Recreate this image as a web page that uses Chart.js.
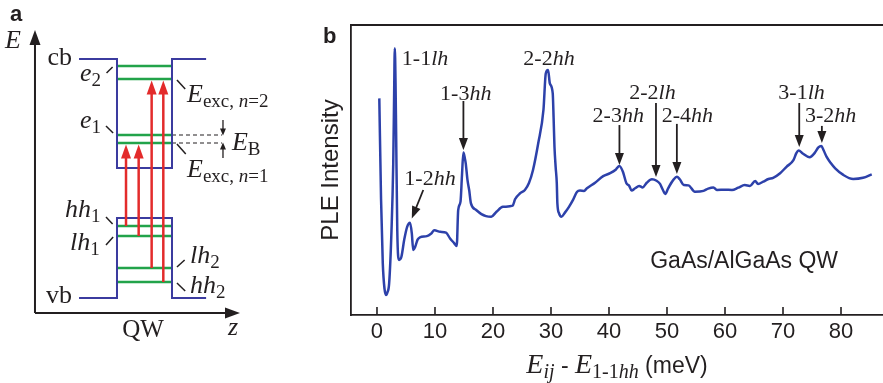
<!DOCTYPE html>
<html>
<head>
<meta charset="utf-8">
<script src="https://cdn.jsdelivr.net/npm/chart.js@4.4.0/dist/chart.umd.min.js"></script>
<style>
  html, body { margin: 0; padding: 0; background: #fff; }
  #wrap { position: relative; width: 883px; height: 383px; overflow: hidden; }
  #schem { position: absolute; left: 0; top: 0; }
  #ple { position: absolute; left: 310px; top: 0; }
</style>
</head>
<body>
<div id="wrap">
  <canvas id="schem" width="310" height="383"></canvas>
  <canvas id="ple" width="573" height="383"></canvas>
</div>
<script>
// ===== panel b : PLE spectrum =====
const energy = [0.4,0.7,1.0,1.3,1.55,1.8,2.1,2.5,2.8,2.95,
  3.07,3.2,3.3,3.5,3.8,4.2,4.7,5.2,5.7,6.0,
  6.25,6.6,7.0,7.4,8.6,9.3,9.9,10.9,11.9,12.6,
  13.3,13.75,14.0,14.4,14.65,14.9,15.15,15.3,15.6,15.9,
  16.2,17.1,18.0,18.8,19.7,20.6,21.7,23.4,23.8,24.7,
  25.5,26.2,26.9,27.8,28.7,29.1,29.5,29.8,30.3,30.45,
  30.6,30.8,31.0,31.1,31.4,31.8,32.4,33.1,33.8,34.5,
  35.0,35.7,36.2,37.6,39.0,40.2,41.2,41.8,42.4,43.0,
  43.5,43.9,44.5,45.2,45.8,46.5,47.4,48.2,48.8,49.3,
  49.7,50.2,51.1,51.7,52.2,52.9,53.7,54.8,56.3,57.1,
  58.0,58.6,60.0,61.2,62.3,63.4,64.3,65.2,65.7,66.6,
  67.5,68.3,69.5,70.6,71.8,72.3,72.7,73.4,74.6,75.5,
  76.1,76.6,77.0,77.5,78.2,79.0,80.4,82.1,83.8,85.3];
const intensity = [74.7,40,17.8,9,6.9,7.8,11,29,52,75,
  92,80,63,29,19,20,26,30.4,31.8,28.2,
  22.4,23.6,26,26.8,27.2,28,29.2,28.7,28.4,26.4,
  24.8,23.8,36.2,39.1,48,56,54,52.3,46.6,43,
  38.5,36.2,34.8,34.1,33.9,35.6,37.3,37.7,39.9,42,
  43.1,45.5,50,59.2,70.7,83.3,84.5,79.9,76.4,68,
  58,51.1,45.4,38.5,35,33.9,35.3,37.3,39.7,42.5,
  42.9,42.8,43.7,45.6,47.9,48.9,50.2,51.4,49.4,45.4,
  44.5,42.9,43.7,44.5,44.0,45.6,46.8,46.3,45.2,43.1,
  41.7,43.7,46.6,47.7,46.8,44.8,44.7,42.5,42.8,43.6,
  44.0,43.1,43.2,43.1,43.9,44.8,44.5,46.2,45.2,46.0,
  46.9,47.3,48.9,51.1,53.4,55.8,56.7,55.7,54.4,56,
  57.8,58.3,56.8,54.6,52.5,50.6,48.3,46.9,47.3,48.5];
const xTicks = [0, 10, 20, 30, 40, 50, 60, 70, 80];
const peakNames = ['1-1lh', '1-2hh', '1-3hh', '2-2hh', '2-3hh', '2-2lh', '2-4hh', '3-1lh', '3-2hh'];
const peakEnergy = [3.07, 6.0, 14.9, 29.5, 41.8, 48.1, 51.7, 72.8, 76.7];

// ===== panel a : quantum well sketch (z in well widths, E arbitrary) =====
const wellZ = [0, 1];
const barrierZ = [-0.69, 1.62];
const cbEdge = [25.4, 14.5];   // barrier, well bottom
const vbEdge = [1.5, 9.5];     // barrier, well top
const levelNames = ['e2', 'Eexc2', 'e1', 'Eexc1', 'hh1', 'lh1', 'lh2', 'hh2'];
const levelE = [24.7, 23.4, 17.8, 17.0, 8.7, 7.7, 4.5, 3.1];
const transitions = [['hh1', 'Eexc1'], ['lh1', 'Eexc1'], ['lh2', 'Eexc2'], ['hh2', 'Eexc2']];
const transitionZ = [0.164, 0.394, 0.63, 0.842];

const INK = '#231f20';
const SERIF = '"Liberation Serif", "Times New Roman", serif';
const SANS = '"Liberation Sans", Arial, sans-serif';
const it = s => `italic ${s}px ${SERIF}`;
const up = s => `${s}px ${SERIF}`;
const lev = n => levelE[levelNames.indexOf(n)];

// text made of pieces with own font and baseline shift
function rich(ctx, x, y, parts, align) {
  let w = 0;
  parts.forEach(p => { ctx.font = p[1]; w += ctx.measureText(p[0]).width; });
  let cx = align === 'center' ? x - w / 2 : align === 'right' ? x - w : x;
  ctx.textAlign = 'left';
  ctx.textBaseline = 'alphabetic';
  ctx.fillStyle = INK;
  parts.forEach(p => {
    ctx.font = p[1];
    ctx.fillText(p[0], cx, y + (p[2] || 0));
    cx += ctx.measureText(p[0]).width;
  });
}

function arrow(ctx, x1, y1, x2, y2, color, lw, hl, hw) {
  const a = Math.atan2(y2 - y1, x2 - x1);
  const bx = x2 - hl * Math.cos(a), by = y2 - hl * Math.sin(a);
  ctx.strokeStyle = color;
  ctx.lineWidth = lw;
  ctx.beginPath();
  ctx.moveTo(x1, y1);
  ctx.lineTo(bx + Math.cos(a), by + Math.sin(a));
  ctx.stroke();
  ctx.fillStyle = color;
  ctx.beginPath();
  ctx.moveTo(x2, y2);
  ctx.lineTo(bx + hw / 2 * Math.sin(a), by - hw / 2 * Math.cos(a));
  ctx.lineTo(bx - hw / 2 * Math.sin(a), by + hw / 2 * Math.cos(a));
  ctx.closePath();
  ctx.fill();
}

// peak label text: numbers upright, band letters italic
function peakParts(name, size) {
  const m = name.match(/^([\d-]+)(.*)$/);
  return [[m[1], up(size)], [m[2], it(size)]];
}

// label placement for panel b: [label x, label y, align, arrow tail y, arrow tip y, tail x]
const peakLayout = [
  [4.28, 86.2, 'left', null, null],
  [9.14, 44.8, 'center', 43.1, 33.3, 7.98],
  [15.3, 74.1, 'center', 73.8, 56.9],
  [29.66, 86.2, 'center', null, null],
  [41.6, 66.7, 'center', 65.5, 51.7],
  [47.5, 74.4, 'center', 73.1, 47.6],
  [53.5, 66.7, 'center', 65.9, 48.6],
  [73.2, 74.4, 'center', 73.1, 57.9],
  [78.2, 66.7, 'center', 65.2, 59.3]
];

const pleDecor = {
  id: 'pleDecor',
  afterDraw(chart) {
    const { ctx, chartArea: ca, scales: { x, y } } = chart;
    ctx.save();
    ctx.strokeStyle = INK;
    ctx.lineWidth = 1.8;
    ctx.beginPath();
    ctx.moveTo(ca.left, ca.top);
    ctx.lineTo(ca.right, ca.top);
    ctx.stroke();
    // ticks pointing into the plot
    ctx.lineWidth = 1.6;
    x.ticks.forEach(t => {
      const px = x.getPixelForValue(t.value);
      ctx.beginPath();
      ctx.moveTo(px, ca.bottom);
      ctx.lineTo(px, ca.bottom - 8);
      ctx.stroke();
    });
    peakNames.forEach((name, i) => {
      const L = peakLayout[i];
      rich(ctx, x.getPixelForValue(L[0]), y.getPixelForValue(L[1]), peakParts(name, 22), L[2]);
      if (L[3] !== null) {
        const tailX = L[5] !== undefined ? L[5] : peakEnergy[i];
        arrow(ctx, x.getPixelForValue(tailX), y.getPixelForValue(L[3]),
          x.getPixelForValue(peakEnergy[i]), y.getPixelForValue(L[4]), INK, 1.8, 12, 9);
      }
    });
    rich(ctx, x.getPixelForValue(63.3), y.getPixelForValue(16.2), [['GaAs/AlGaAs QW', `23px ${SANS}`]], 'center');
    rich(ctx, (ca.left + ca.right) / 2, 373, [
      ['E', it(28)], ['ij', it(20), 5], [' - ', `23px ${SANS}`],
      ['E', it(28)], ['1-1', up(20), 5], ['hh', it(20), 5], [' (meV)', `23px ${SANS}`]
    ], 'center');
    rich(ctx, 13, 43, [['b', `bold 22px ${SANS}`]], 'left');
    ctx.restore();
  }
};

new Chart(document.getElementById('ple'), {
  type: 'scatter',
  data: {
    datasets: [{
      data: energy.map((e, i) => ({ x: e, y: intensity[i] })),
      showLine: true,
      borderColor: '#2d41aa',
      borderWidth: 2.5,
      pointRadius: 0,
      cubicInterpolationMode: 'monotone',
      fill: false
    }]
  },
  options: {
    responsive: false,
    animation: false,
    devicePixelRatio: 1,
    layout: { padding: { top: 25, left: 0, right: 0, bottom: 0 } },
    plugins: { legend: { display: false }, tooltip: { enabled: false } },
    scales: {
      x: {
        type: 'linear', min: -4.48, max: 87.24,
        afterBuildTicks: s => { s.ticks = xTicks.map(v => ({ value: v })); },
        afterFit: s => { s.height = 68; },
        grid: { display: false, drawTicks: false },
        border: { display: true, color: INK, width: 1.8 },
        ticks: { color: INK, font: { family: SANS, size: 22 }, padding: 4, maxRotation: 0, autoSkip: false }
      },
      y: {
        min: 0, max: 100,
        afterFit: s => { s.width = 41; },
        grid: { display: false, drawTicks: false },
        border: { display: true, color: INK, width: 1.8 },
        ticks: { display: false },
        title: { display: true, text: 'PLE Intensity', color: INK, font: { family: SANS, size: 24 }, padding: { top: 7, bottom: 0 } }
      }
    }
  },
  plugins: [pleDecor]
});

// ===== panel a =====
const BLUE = '#3b3b9f', GREEN = '#22a34a', RED = '#e32b2b';
const seg = (pts, color, w, dash) => ({
  data: pts.map(p => ({ x: p[0], y: p[1] })),
  showLine: true, borderColor: color, borderWidth: w, pointRadius: 0,
  borderDash: dash || [], fill: false, tension: 0
});

// leader strokes and labels: [z1, E1, z2, E2]
const leaders = [
  [-0.19, 24.0, -0.08, 24.6], [-0.2, 18.7, -0.07, 18.0],
  [1.09, 23.3, 1.24, 22.4], [1.09, 16.9, 1.25, 15.9],
  [-0.2, 9.6, -0.08, 8.9], [-0.2, 6.8, -0.07, 7.6],
  [1.09, 4.6, 1.23, 5.3], [1.09, 3.0, 1.24, 2.2]
];
const sub = (t, n, s) => [[t, it(26)], [n, up(s || 19), 5]];
const schemLabels = [
  [-2.036, 26.5, 'left', [['E', it(26)]]],
  [-0.818, 24.8, 'right', [['cb', up(26)]]],
  [-0.818, 1.0, 'right', [['vb', up(26)]]],
  [-0.673, 23.2, 'left', sub('e', '2')],
  [-0.673, 18.5, 'left', sub('e', '1')],
  [-0.945, 9.6, 'left', sub('hh', '1')],
  [-0.855, 6.3, 'left', sub('lh', '1')],
  [1.327, 5.0, 'left', sub('lh', '2')],
  [1.327, 2.0, 'left', sub('hh', '2')],
  [1.273, 21.1, 'left', [['E', it(26)], ['exc, ', up(19), 5], ['n', it(19), 5], ['=2', up(19), 5]]],
  [1.273, 13.6, 'left', [['E', it(26)], ['exc, ', up(19), 5], ['n', it(19), 5], ['=1', up(19), 5]]],
  [2.09, 16.3, 'left', sub('E', 'B')],
  [0.473, -2.4, 'center', [['QW', up(25)]]],
  [2.109, -2.2, 'center', [['z', it(26)]]],
  [-1.945, 29.2, 'left', [['a', `bold 22px ${SANS}`]]]
];

const schemDecor = {
  id: 'schemDecor',
  afterDraw(chart) {
    const { ctx, scales: { x, y } } = chart;
    const X = v => x.getPixelForValue(v), Y = v => y.getPixelForValue(v);
    ctx.save();
    // axes
    arrow(ctx, X(-1.491), Y(0), X(-1.491), Y(28.3), INK, 2, 15, 11);
    arrow(ctx, X(-1.491), Y(0), X(2.236), Y(0), INK, 2, 15, 11);
    // optical transitions
    transitions.forEach((t, i) => {
      arrow(ctx, X(transitionZ[i]), Y(lev(t[0])), X(transitionZ[i]), Y(lev(t[1]) - 0.15), RED, 2.5, 14, 10);
    });
    // binding energy marks
    arrow(ctx, X(1.927), Y(19.3), X(1.927), Y(lev('e1') - 0.05), INK, 1.3, 7, 6);
    arrow(ctx, X(1.927), Y(15.5), X(1.927), Y(lev('Eexc1') + 0.05), INK, 1.3, 7, 6);
    schemLabels.forEach(L => rich(ctx, X(L[0]), Y(L[1]), L[3], L[2]));
    ctx.restore();
  }
};

const schemSets = [
  seg([[barrierZ[0], cbEdge[0]], [wellZ[0], cbEdge[0]], [wellZ[0], cbEdge[1]], [wellZ[1], cbEdge[1]], [wellZ[1], cbEdge[0]], [barrierZ[1], cbEdge[0]]], BLUE, 2),
  seg([[barrierZ[0], vbEdge[0]], [wellZ[0], vbEdge[0]], [wellZ[0], vbEdge[1]], [wellZ[1], vbEdge[1]], [wellZ[1], vbEdge[0]], [barrierZ[1], vbEdge[0]]], BLUE, 2)
];
levelE.forEach(e => schemSets.push(seg([[wellZ[0], e], [wellZ[1], e]], GREEN, 2.5)));
[lev('e1'), lev('Eexc1')].forEach(e => schemSets.push(seg([[wellZ[1], e], [1.909, e]], INK, 1.2, [4, 3])));
leaders.forEach(l => schemSets.push(seg([[l[0], l[1]], [l[2], l[3]]], INK, 1.5)));

new Chart(document.getElementById('schem'), {
  type: 'scatter',
  data: { datasets: schemSets },
  options: {
    responsive: false,
    animation: false,
    devicePixelRatio: 1,
    layout: { padding: 0 },
    plugins: { legend: { display: false }, tooltip: { enabled: false } },
    scales: {
      x: { type: 'linear', min: -2.127, max: 3.509, display: false },
      y: { type: 'linear', min: -7, max: 31.3, display: false }
    }
  },
  plugins: [schemDecor]
});
</script>
</body>
</html>
